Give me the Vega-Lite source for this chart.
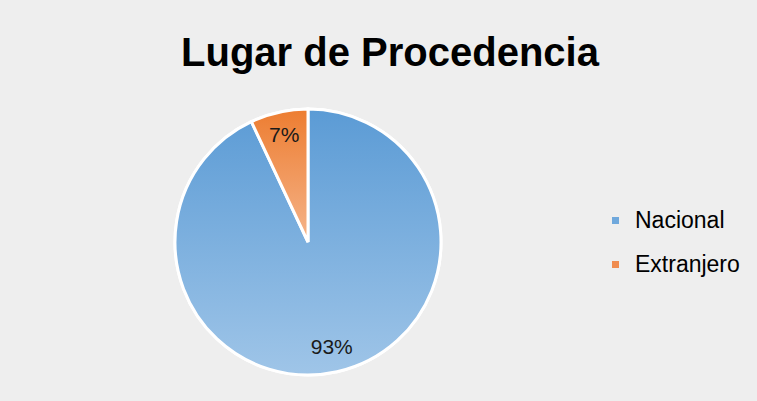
{
  "$schema": "https://vega.github.io/schema/vega-lite/v6.json",
  "width": 266,
  "height": 266,
  "autosize": {"type": "none"},
  "padding": {"left": 175, "top": 109, "right": 316, "bottom": 26},
  "background": "#eeeeee",
  "title": {
    "text": "Lugar de Procedencia",
    "font": "Liberation Sans",
    "fontSize": 40,
    "fontWeight": "bold",
    "color": "#000000",
    "anchor": "middle",
    "baseline": "alphabetic",
    "offset": 43,
    "dx": 82,
    "dy": 46
  },
  "data": {
    "values": [
      {"lugar": "Nacional", "valor": 93, "orden": 1, "etiqueta": "93%"},
      {"lugar": "Extranjero", "valor": 7, "orden": 2, "etiqueta": "7%"}
    ]
  },
  "config": {"view": {"stroke": null}},
  "layer": [
    {
      "mark": {"type": "arc", "stroke": "white", "strokeWidth": 3},
      "encoding": {
        "theta": {"field": "valor", "type": "quantitative", "stack": true},
        "order": {"field": "orden", "type": "quantitative"},
        "color": {
          "field": "lugar",
          "type": "nominal",
          "scale": {"domain": ["Nacional", "Extranjero"], "range": ["#6fa8dc", "#f08c4f"]},
          "legend": {
            "title": null,
            "orient": "none",
            "legendX": 429,
            "legendY": 100,
            "symbolType": "square",
            "symbolSize": 49,
            "symbolStrokeWidth": 0,
            "labelFont": "Liberation Sans",
            "labelFontSize": 23,
            "labelColor": "#000000",
            "labelOffset": 8,
            "rowPadding": 20
          }
        }
      }
    },
    {
      "mark": {"type": "arc", "stroke": "white", "strokeWidth": 3},
      "encoding": {
        "theta": {"field": "valor", "type": "quantitative", "stack": true},
        "order": {"field": "orden", "type": "quantitative"},
        "fill": {
          "condition": {
            "test": "datum.lugar === 'Nacional'",
            "value": {"gradient": "linear", "x1": 0, "y1": 0, "x2": 0, "y2": 1,
              "stops": [{"offset": 0, "color": "#5b9bd5"}, {"offset": 1, "color": "#9fc5e8"}]}
          },
          "value": {"gradient": "linear", "x1": 0, "y1": 0, "x2": 0, "y2": 1,
            "stops": [{"offset": 0, "color": "#ed7d31"}, {"offset": 1, "color": "#f5b48a"}]}
        }
      }
    },
    {
      "mark": {"type": "text", "radius": 109, "font": "Liberation Sans", "fontSize": 21, "color": "#1a1a1a"},
      "encoding": {
        "theta": {"field": "valor", "type": "quantitative", "stack": true},
        "order": {"field": "orden", "type": "quantitative"},
        "text": {"field": "etiqueta", "type": "nominal"}
      }
    }
  ]
}
